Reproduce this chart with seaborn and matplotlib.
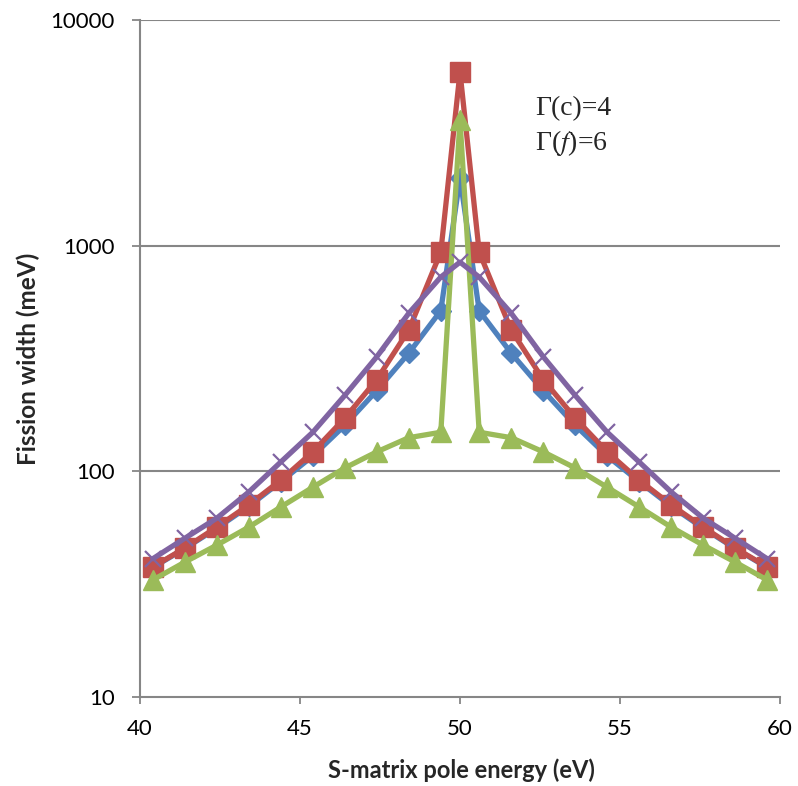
import matplotlib
matplotlib.use("Agg")
import matplotlib.pyplot as plt
import seaborn as sns
import pandas as pd

energy = [40.4, 41.4, 42.4, 43.4, 44.4, 45.4, 46.4, 47.4, 48.4, 49.4, 50.0,
          50.6, 51.6, 52.6, 53.6, 54.6, 55.6, 56.6, 57.6, 58.6, 59.6]
blue = [37.5, 45.5, 56, 70, 90, 117, 160, 228, 334, 515, 2000,
        515, 334, 228, 160, 117, 90, 70, 56, 45.5, 37.5]
red = [37.7, 45.7, 56.6, 71, 91.4, 122, 172, 255, 423, 937, 5875,
       937, 423, 255, 172, 122, 91.4, 71, 56.6, 45.7, 37.7]
green = [33, 39.6, 47.1, 56.6, 69.5, 85, 103.5, 122, 141, 149, 3600,
         149, 141, 122, 103.5, 85, 69.5, 56.6, 47.1, 39.6, 33]
purple = [41, 50.5, 62, 81, 110, 149, 217, 322, 502, 726, 845,
          726, 502, 322, 217, 149, 110, 81, 62, 50.5, 41]

xticks = [40, 45, 50, 55, 60]
yticks = [10, 100, 1000, 10000]
ytick_labels = ["10", "100", "1000", "10000"]

sns.set_theme(style="white")
plt.rcParams['font.family'] = ['Lato', 'DejaVu Sans']
plt.rcParams['mathtext.fontset'] = 'stix'

fig = plt.figure(figsize=(7.98, 7.86), dpi=100)
ax = fig.add_axes([140/798, 1-697/786, 640/798, 677/786])

series = [
    ("blue", blue, "#4F81BD", "D", 10, 1.0),
    ("red", red, "#C0504D", "s", 14, 1.0),
    ("green", green, "#9BBB59", "^", 15, 1.0),
    ("purple", purple, "#8064A2", "x", 12, 1.6),
]
for i, (name, vals, col, mk, ms, mew) in enumerate(series):
    df = pd.DataFrame({"x": energy, "y": vals})
    sns.lineplot(data=df, x="x", y="y", ax=ax, color=col, lw=3.8,
                 marker=mk, markersize=ms, markeredgecolor=col,
                 markerfacecolor=col, markeredgewidth=mew, zorder=3 + i)

ax.set_yscale("log")
ax.set_xlim(40, 60)
ax.set_ylim(10, 10000)
ax.set_xticks(xticks)
ax.set_xticklabels([str(t) for t in xticks])
ax.set_yticks(yticks)
ax.set_yticklabels(ytick_labels)
ax.yaxis.set_minor_locator(matplotlib.ticker.NullLocator())

for yv in [100, 1000, 10000]:
    ax.axhline(yv, color="#868686", lw=1.5, zorder=1)

for s in ["top", "right"]:
    ax.spines[s].set_visible(False)
for s in ["left", "bottom"]:
    ax.spines[s].set_color("#868686")
    ax.spines[s].set_linewidth(1.5)

ax.tick_params(axis="both", which="major", direction="out",
               width=1.3, color="#868686", labelsize=16, labelcolor="black",
               bottom=True, left=True)
ax.tick_params(axis="x", length=5, pad=11)
ax.tick_params(axis="y", length=6, pad=12)

ax.set_xlabel("S-matrix pole energy (eV)", fontsize=17, fontweight="bold")
ax.set_ylabel("Fission width (meV)", fontsize=17.5, fontweight="bold")
ax.xaxis.set_label_coords(0.503, -0.09)
ax.yaxis.set_label_coords(-0.156, 0.5)

ax.text(0.617, 0.869, "Γ(c)=4", transform=ax.transAxes, fontsize=20,
        family="Liberation Serif", va="center", ha="left")
ax.text(0.617, 0.818, r"Γ($\mathit{f}$)=6", transform=ax.transAxes, fontsize=20,
        family="Liberation Serif", va="center", ha="left")

fig.savefig("out.png", dpi=100)
